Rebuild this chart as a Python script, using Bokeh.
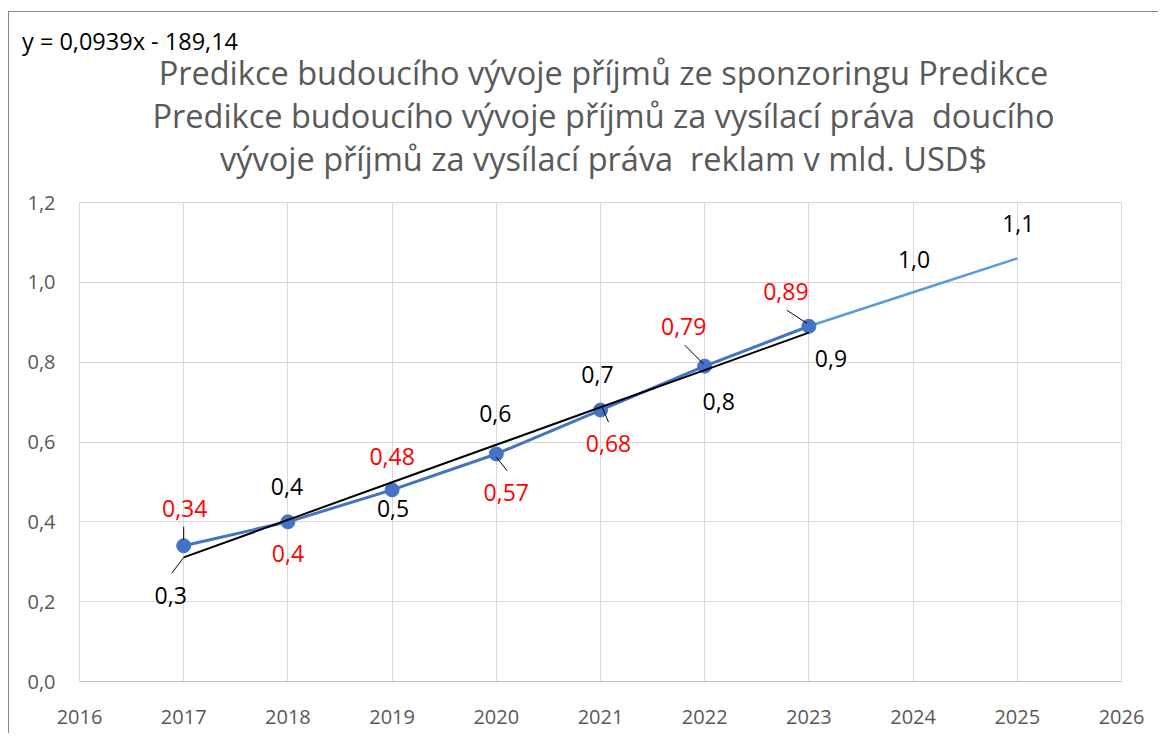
from bokeh.plotting import figure
from bokeh.models import FixedTicker, ColumnDataSource, Range1d, Div
from bokeh.layouts import column
from bokeh.core.properties import value
from bokeh.embed import file_html
from bokeh.resources import INLINE

# ---------------- data ----------------
years = [2017, 2018, 2019, 2020, 2021, 2022, 2023]
actual = [0.34, 0.40, 0.48, 0.57, 0.68, 0.79, 0.89]
actual_labels = ["0,34", "0,4", "0,48", "0,57", "0,68", "0,79", "0,89"]
trend = [0.311, 0.405, 0.499, 0.593, 0.687, 0.780, 0.874]
trend_labels = ["0,3", "0,4", "0,5", "0,6", "0,7", "0,8", "0,9"]
forecast_years = [2023, 2024, 2025]
forecast = [0.89, 0.975, 1.06]
forecast_labels = ["", "1,0", "1,1"]
x_ticks = [2016, 2017, 2018, 2019, 2020, 2021, 2022, 2023, 2024, 2025, 2026]
y_ticks = [0.0, 0.2, 0.4, 0.6, 0.8, 1.0, 1.2]
y_tick_labels = ["0,0", "0,2", "0,4", "0,6", "0,8", "1,0", "1,2"]
title_lines = [
    "Predikce budoucího vývoje příjmů ze sponzoringu Predikce",
    "Predikce budoucího vývoje příjmů za vysílací práva  doucího",
    "vývoje příjmů za vysílací práva  reklam v mld. USD$",
]
equation = "y = 0,0939x - 189,14"

# ---------------- styles ----------------
FONT = "Open Sans"
W, H = 1150, 552
DIV_H = 170
ML, MR, MT, MB = 70, 38, 20, 53
x0, x1 = 2016, 2026
y0, y1 = 0.0, 1.2
px_x = (x1 - x0) / (W - ML - MR)
px_y = (y1 - y0) / (H - MT - MB)

red_off = [(1, -37), (0, 32), (0, -33), (10, 39), (8, 33), (-21, -40), (-23, -35)]
black_off = [(-13, 38), (-1, -33), (1, 26), (-1, -31), (-3, -33), (14, 31), (22, 26)]
fc_off = [(0, 0), (1, -33), (1, -35)]
red_leaders = {0: (0, -19, 0, -6), 3: (0, 3, 11, 17), 4: (2, -2, 8, 12),
               5: (-20, -21, -1, -2), 6: (-22, -16, -2, -3)}
black_leaders = {0: (-12, 16, 0, 0)}

# ---------------- header (equation + title) ----------------
header_html = (
    f'<div style="position:relative;width:{W}px;height:{DIV_H}px;'
    f"font-family:'{FONT}',sans-serif;white-space:pre;\">"
    f'<div style="position:absolute;left:13px;top:13px;font-size:23.5px;'
    f'line-height:32px;color:#000000;">{equation}</div>'
    f'<div style="position:absolute;left:39px;top:39px;width:1111px;text-align:center;'
    f'font-size:32.5px;line-height:43px;color:#595959;">'
    + "<br>".join(title_lines) + "</div></div>"
)
header = Div(text=header_html, width=W, height=DIV_H, styles={"margin": "0", "padding": "0"})

# ---------------- plot ----------------
p = figure(width=W, height=H, x_range=Range1d(x0, x1), y_range=Range1d(y0, y1),
           output_backend="svg", toolbar_location=None,
           min_border_left=ML, min_border_right=MR, min_border_top=MT, min_border_bottom=MB)
p.outline_line_color = "#d9d9d9"
p.background_fill_color = "white"
p.border_fill_color = "white"

p.xaxis.ticker = FixedTicker(ticks=x_ticks)
p.yaxis.ticker = FixedTicker(ticks=y_ticks)
p.yaxis.major_label_overrides = {t: l for t, l in zip(y_ticks, y_tick_labels)}
for ax in (p.xaxis[0], p.yaxis[0]):
    ax.major_tick_line_color = None
    ax.minor_tick_line_color = None
    ax.major_label_text_font = FONT
    ax.major_label_text_font_size = "20px"
    ax.major_label_text_color = "#595959"
p.xaxis.axis_line_color = "#bfbfbf"
p.yaxis.axis_line_color = None
p.xaxis.major_label_standoff = 22
p.yaxis.major_label_standoff = 18
p.xgrid.ticker = FixedTicker(ticks=x_ticks)
p.ygrid.ticker = FixedTicker(ticks=y_ticks)
p.grid.grid_line_color = "#d9d9d9"
p.grid.grid_line_width = 1

p.line(forecast_years, forecast, line_color="#5B9BD5", line_width=2.5)
p.line(years, actual, line_color="#4472C4", line_width=3)
p.scatter(years, actual, size=14, fill_color="#4472C4", line_color="#4472C4")
p.line(years, trend, line_color="black", line_width=2)


def leaders(xs, ys, spec):
    sx0, sy0, sx1, sy1 = [], [], [], []
    for i, (a, b, c, d) in spec.items():
        sx0.append(xs[i] + a * px_x)
        sy0.append(ys[i] - b * px_y)
        sx1.append(xs[i] + c * px_x)
        sy1.append(ys[i] - d * px_y)
    p.segment(sx0, sy0, sx1, sy1, line_color="black", line_width=1)


leaders(years, actual, red_leaders)
leaders(years, trend, black_leaders)


def labels(xs, ys, txt, offs, color):
    src = ColumnDataSource(dict(x=xs, y=ys, t=txt,
                                dx=[o[0] for o in offs], dy=[o[1] for o in offs]))
    p.text(x="x", y="y", text="t", x_offset="dx", y_offset="dy", source=src,
           text_align="center", text_baseline="middle", text_font=value(FONT),
           text_font_size="23px", text_color=color)


labels(years, actual, actual_labels, red_off, "#ff0000")
labels(years, trend, trend_labels, black_off, "black")
labels(forecast_years, forecast, forecast_labels, fc_off, "black")

layout = column(header, p, spacing=0,
                styles={"margin-left": "9px", "margin-top": "12px",
                        "box-shadow": "-1px -1px 0 0 #898989"})

open("out.html", "w").write(file_html(layout, INLINE))
